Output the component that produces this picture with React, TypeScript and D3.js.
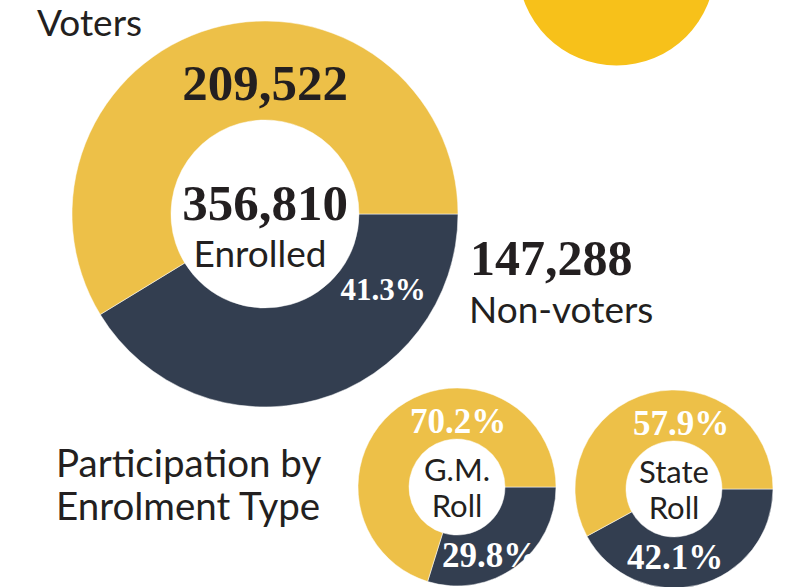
import React from "react";
import * as d3 from "d3";

const mainCategories = ["Non-voters", "Voters"];
const mainValues = [147288, 209522];
const enrolledTotal = 356810;

const rollNames = [["G.M.", "Roll"], ["State", "Roll"]];
const rollNonVoterPct = [29.8, 42.1];
const rollVoterPct = [70.2, 57.9];

const YELLOW = "#EDC048";
const DARK = "#333E50";
const TEXT = "#231F20";
const BRIGHT = "#F7C11A";

const SANS = "Lato, 'Open Sans', sans-serif";
const SERIF = "'Liberation Serif', 'DejaVu Serif', serif";

const fmt = d3.format(",");

export default function App() {
  const pie = d3
    .pie<number>()
    .sort(null)
    .value((d) => d)
    .startAngle(Math.PI / 2)
    .endAngle(Math.PI / 2 + 2 * Math.PI);

  const main = { cx: 265, cy: 214, ro: 193, ri: 94 };
  const mainArc = d3.arc<any>().innerRadius(main.ri).outerRadius(main.ro);
  const mainArcs = pie(mainValues);
  const colors = [DARK, YELLOW];
  const nonPct = (mainValues[0] / enrolledTotal) * 100;

  const smalls = [
    { cx: 457, cy: 487 },
    { cx: 674, cy: 489 },
  ];
  const smallArc = d3.arc<any>().innerRadius(48).outerRadius(99);

  return (
    <svg
      width={808}
      height={587}
      style={{ position: "absolute", left: 0, top: 0, background: "#fff" }}
    >
      <circle cx={616.5} cy={-33} r={98.5} fill={BRIGHT} />

      <text x={37} y={36} fontFamily={SANS} fontSize={37} fill={TEXT}>
        {mainCategories[1]}
      </text>

      <g transform={`translate(${main.cx},${main.cy})`}>
        {mainArcs.map((a, i) => (
          <path key={i} d={mainArc(a) as string} fill={colors[i]} stroke="#fff" strokeWidth={0.5} />
        ))}
        <text x={0} y={100 - main.cy} textAnchor="middle" fontFamily={SERIF} fontWeight="bold" fontSize={51} fill={TEXT}>
          {fmt(mainValues[1])}
        </text>
        <text x={0} y={220 - main.cy} textAnchor="middle" fontFamily={SERIF} fontWeight="bold" fontSize={51} fill={TEXT}>
          {fmt(enrolledTotal)}
        </text>
        <text x={-5} y={267 - main.cy} textAnchor="middle" fontFamily={SANS} fontSize={37} fill={TEXT}>
          Enrolled
        </text>
        <text x={383 - main.cx} y={300 - main.cy} textAnchor="middle" fontFamily={SERIF} fontWeight="bold" fontSize={31} fill="#fff">
          {nonPct.toFixed(1) + "%"}
        </text>
      </g>

      <text x={470} y={275} fontFamily={SERIF} fontWeight="bold" fontSize={50} fill={TEXT}>
        {fmt(mainValues[0])}
      </text>
      <text x={469} y={323} fontFamily={SANS} fontSize={37} fill={TEXT}>
        {mainCategories[0]}
      </text>

      <text fontFamily={SANS} fontSize={38.5} fill={TEXT}>
        <tspan x={56} y={477}>Participation by</tspan>
        <tspan x={56} y={520}>Enrolment Type</tspan>
      </text>

      {smalls.map((s, k) => {
        const arcs = pie([rollNonVoterPct[k], rollVoterPct[k]]);
        return (
          <g key={k} transform={`translate(${s.cx},${s.cy})`}>
            {arcs.map((a, i) => (
              <path key={i} d={smallArc(a) as string} fill={colors[i]} stroke="#fff" strokeWidth={0.5} />
            ))}
            <text x={k === 0 ? 1 : 7} y={-54} textAnchor="middle" fontFamily={SERIF} fontWeight="bold" fontSize={35} fill="#fff">
              {rollVoterPct[k].toFixed(1) + "%"}
            </text>
            <text x={k === 0 ? 33 : 1} y={80} textAnchor="middle" fontFamily={SERIF} fontWeight="bold" fontSize={35} fill="#fff">
              {rollNonVoterPct[k].toFixed(1) + "%"}
            </text>
            <text fontFamily={SANS} fontSize={31} fill={TEXT} textAnchor="middle">
              <tspan x={0} y={-6}>{rollNames[k][0]}</tspan>
              <tspan x={0} y={30}>{rollNames[k][1]}</tspan>
            </text>
          </g>
        );
      })}
    </svg>
  );
}
